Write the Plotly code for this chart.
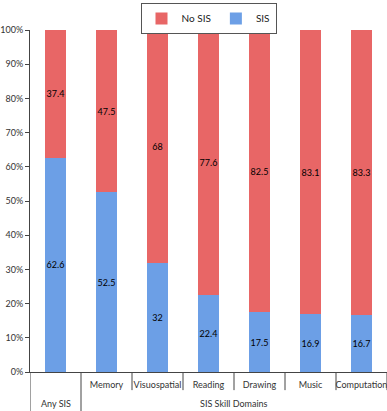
import plotly.graph_objects as go

categories = ["Any SIS", "Memory", "Visuospatial", "Reading", "Drawing", "Music", "Computation"]
tick_labels = ["", "Memory", "Visuospatial", "Reading", "Drawing", "Music", "Computation"]
group_labels = ["Any SIS", "SIS Skill Domains"]
group_centers = [0, 3.5]
group_bounds = [-0.5, 0.5]
inner_bounds = [1.5, 2.5, 3.5, 4.5, 5.5, 6.5]
sis = [62.6, 52.5, 32, 22.4, 17.5, 16.9, 16.7]
no_sis = [37.4, 47.5, 68, 77.6, 82.5, 83.1, 83.3]
yticks = [0, 10, 20, 30, 40, 50, 60, 70, 80, 90, 100]

FONT = "Lato, Liberation Sans, sans-serif"

fig = go.Figure()
fig.add_trace(go.Bar(
    x=categories, y=sis, name="SIS",
    marker=dict(color="#6c9fe6", line=dict(width=0)),
    text=[str(v) for v in sis], textposition="inside", insidetextanchor="middle",
    textfont=dict(color="black", size=9), textangle=0,
))
fig.add_trace(go.Bar(
    x=categories, y=no_sis, name="No SIS",
    marker=dict(color="#e86666", line=dict(width=0)),
    text=[str(v) for v in no_sis], textposition="inside", insidetextanchor="middle",
    textfont=dict(color="black", size=9), textangle=0,
))

for lbl, cx in zip(group_labels, group_centers):
    fig.add_annotation(x=cx, xref="x", y=-0.092, yref="paper", text=lbl,
                       showarrow=False, yanchor="middle",
                       font=dict(family=FONT, size=9, color="#333"))
for bx in group_bounds:
    fig.add_shape(type="line", xref="x", yref="paper", x0=bx, x1=bx, y0=0, y1=-0.12,
                  line=dict(color="#444", width=1))
for bx in inner_bounds:
    fig.add_shape(type="line", xref="x", yref="paper", x0=bx, x1=bx, y0=0, y1=-0.053,
                  line=dict(color="#444", width=1))

fig.update_layout(
    barmode="stack", bargap=0.6,
    width=387, height=411,
    margin=dict(l=30, r=0, t=30, b=39, autoexpand=False),
    plot_bgcolor="white", paper_bgcolor="white",
    font=dict(family=FONT, size=9, color="#333"),
    legend=dict(orientation="h", x=0.5, xanchor="center", y=0.993, yanchor="top",
                yref="container", traceorder="reversed",
                bordercolor="#555", borderwidth=1, font=dict(size=10, color="#222"),
                itemwidth=30, tracegroupgap=0),
    uniformtext=dict(minsize=8, mode="show"),
)
fig.update_yaxes(range=[0, 100], tickvals=yticks, ticktext=[f"{v}%" for v in yticks],
                 showgrid=False, showline=True, linecolor="#444", linewidth=1,
                 ticks="outside", ticklen=4, tickcolor="#444", zeroline=False,
                 automargin=False, tickfont=dict(size=9, color="#333"))
fig.update_xaxes(range=[-0.5, 6.5], tickmode="array", tickvals=categories, ticktext=tick_labels,
                 showline=True, linecolor="#444", linewidth=1, showgrid=False,
                 ticks="", tickangle=0, automargin=False, ticklabelstandoff=4,
                 tickfont=dict(size=9, color="#333"))

fig.write_html("out.html", config={"displayModeBar": False},
               post_script="document.body.style.margin='0';")
